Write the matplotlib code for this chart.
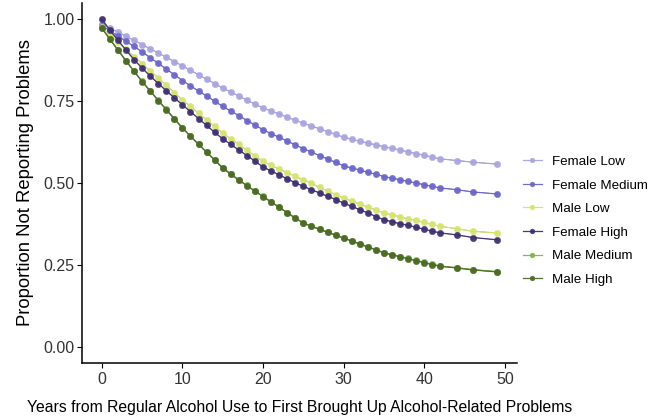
import matplotlib
matplotlib.use("Agg")
import matplotlib.pyplot as plt
import numpy as np

plt.rcParams['font.family'] = ['Liberation Sans', 'DejaVu Sans']

years = list(range(0, 43)) + [44, 46, 49]

female_low = [0.985, 0.972, 0.960, 0.947, 0.935, 0.922, 0.909, 0.896, 0.883, 0.870,
              0.857, 0.843, 0.830, 0.816, 0.803, 0.789, 0.777, 0.765, 0.752, 0.740,
              0.728, 0.719, 0.710, 0.700, 0.691, 0.682, 0.673, 0.665, 0.656, 0.648,
              0.639, 0.633, 0.627, 0.621, 0.616, 0.610, 0.605, 0.600, 0.594, 0.589,
              0.584, 0.578, 0.573, 0.568, 0.563, 0.557]
female_medium = [0.980, 0.964, 0.948, 0.932, 0.916, 0.900, 0.882, 0.865, 0.847, 0.830,
                 0.812, 0.796, 0.780, 0.765, 0.749, 0.733, 0.719, 0.705, 0.690, 0.676,
                 0.662, 0.650, 0.639, 0.627, 0.616, 0.604, 0.594, 0.583, 0.573, 0.562,
                 0.552, 0.545, 0.539, 0.532, 0.526, 0.519, 0.514, 0.509, 0.504, 0.499,
                 0.494, 0.489, 0.484, 0.479, 0.472, 0.466]
male_low = [0.975, 0.952, 0.930, 0.907, 0.885, 0.864, 0.842, 0.820, 0.798, 0.775,
            0.753, 0.733, 0.712, 0.692, 0.672, 0.652, 0.634, 0.617, 0.599, 0.582,
            0.565, 0.553, 0.542, 0.531, 0.520, 0.509, 0.498, 0.486, 0.475, 0.464,
            0.453, 0.444, 0.435, 0.426, 0.417, 0.408, 0.402, 0.396, 0.390, 0.385,
            0.379, 0.373, 0.367, 0.360, 0.352, 0.347]
female_high = [1.000, 0.966, 0.935, 0.905, 0.876, 0.850, 0.826, 0.803, 0.781, 0.759,
               0.738, 0.717, 0.696, 0.675, 0.654, 0.634, 0.617, 0.600, 0.583, 0.566,
               0.548, 0.536, 0.524, 0.512, 0.500, 0.489, 0.479, 0.469, 0.459, 0.449,
               0.438, 0.428, 0.418, 0.408, 0.397, 0.387, 0.381, 0.375, 0.370, 0.364,
               0.358, 0.352, 0.347, 0.341, 0.333, 0.326]
male_medium = [0.973, 0.939, 0.906, 0.873, 0.841, 0.810, 0.781, 0.752, 0.724, 0.696,
               0.668, 0.643, 0.618, 0.594, 0.570, 0.546, 0.527, 0.509, 0.492, 0.475,
               0.459, 0.442, 0.426, 0.409, 0.393, 0.378, 0.368, 0.359, 0.350, 0.341,
               0.332, 0.323, 0.314, 0.305, 0.296, 0.287, 0.281, 0.275, 0.269, 0.263,
               0.257, 0.251, 0.246, 0.241, 0.235, 0.229]
male_high = [0.972, 0.938, 0.905, 0.872, 0.840, 0.809, 0.780, 0.751, 0.723, 0.695,
             0.667, 0.642, 0.617, 0.593, 0.569, 0.545, 0.526, 0.508, 0.491, 0.474,
             0.458, 0.441, 0.425, 0.408, 0.392, 0.377, 0.367, 0.358, 0.349, 0.340,
             0.331, 0.322, 0.313, 0.304, 0.295, 0.286, 0.280, 0.274, 0.268, 0.262,
             0.256, 0.250, 0.245, 0.240, 0.234, 0.228]

labels = ["Female Low", "Female Medium", "Male Low", "Female High", "Male Medium", "Male High"]
series = [female_low, female_medium, male_low, female_high, male_medium, male_high]
colors = ["#a9a5e2", "#6b65cc", "#d6e46c", "#3d2f72", "#7db547", "#4b6a26"]

x_ticks = [0, 10, 20, 30, 40, 50]
y_ticks = [0.00, 0.25, 0.50, 0.75, 1.00]
y_ticklabels = ["0.00", "0.25", "0.50", "0.75", "1.00"]

fig = plt.figure(figsize=(6.62, 4.18), dpi=100)
ax = fig.add_axes([0.1239, 0.1316, 0.6566, 0.8622])

for vals, lab, col in zip(series, labels, colors):
    ax.plot(years, vals, color=col, lw=0.9, marker='o', markersize=4.6,
            markerfacecolor=col, markeredgecolor=col, markeredgewidth=0.3,
            label=lab, alpha=0.95)
    ax.plot(years, vals, color="#777777", lw=0.5, zorder=1.9)

ax.set_xlim(-2.45, 51.45)
ax.set_ylim(-0.05, 1.05)
ax.set_xticks(x_ticks)
ax.set_yticks(y_ticks)
ax.set_yticklabels(y_ticklabels)
ax.tick_params(axis='both', labelsize=11.5, length=3.5, width=0.8, colors='black',
               labelcolor='#333333', pad=2)
ax.tick_params(axis='x', pad=3)
for s in ['top', 'right']:
    ax.spines[s].set_visible(False)
for s in ['left', 'bottom']:
    ax.spines[s].set_linewidth(1.1)
    ax.spines[s].set_color('black')

ax.set_ylabel("Proportion Not Reporting Problems", fontsize=13.3, labelpad=7)
ax.set_xlabel("Years from Regular Alcohol Use to First Brought Up Alcohol-Related Problems",
              fontsize=11.3, labelpad=9)

handles, labs = ax.get_legend_handles_labels()
leg = fig.legend(handles, labs, loc='center left', bbox_to_anchor=(0.772, 0.472),
                 frameon=False, fontsize=9.6, labelspacing=0.84, handlelength=1.4,
                 handletextpad=0.8, markerscale=0.75)

fig.savefig("out.png", dpi=100)
